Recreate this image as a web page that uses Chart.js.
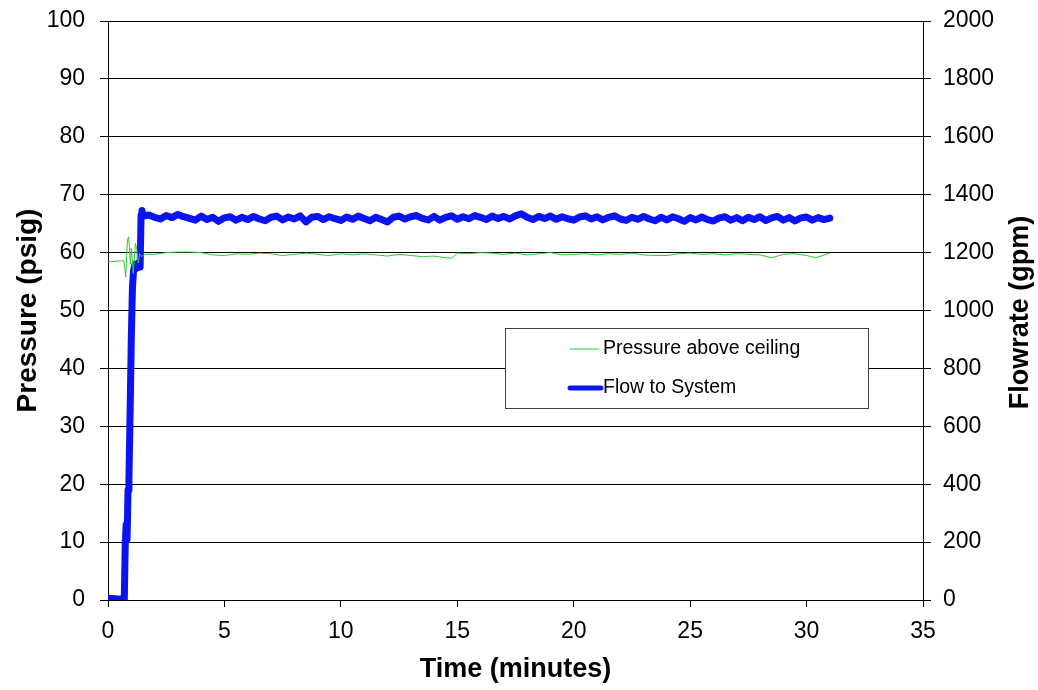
<!DOCTYPE html>
<html>
<head>
<meta charset="utf-8">
<script src="https://cdn.jsdelivr.net/npm/chart.js@4.4.1/dist/chart.umd.min.js"></script>
<style>
  html, body { margin: 0; padding: 0; background: #ffffff; }
  #wrap { width: 1038px; height: 690px; position: relative; }
</style>
</head>
<body>
<div id="wrap"><canvas id="c" width="1038" height="690"></canvas></div>
<script>
// ---------- DATA ----------
const seriesNames = ["Pressure above ceiling", "Flow to System"];
const axisTitles = { x: "Time (minutes)", left: "Pressure (psig)", right: "Flowrate (gpm)" };

const xTicks = [0, 5, 10, 15, 20, 25, 30, 35];
const pressureTicks = [0, 10, 20, 30, 40, 50, 60, 70, 80, 90, 100];
const flowTicks = [0, 200, 400, 600, 800, 1000, 1200, 1400, 1600, 1800, 2000];

// Pressure above ceiling (psig) vs time (minutes)
const pressureTime = [
  0, 0.3, 0.68, 0.72, 0.76, 0.8, 0.84, 0.88, 0.92, 0.96, 1.0, 1.04, 1.08, 1.12, 1.18, 1.24, 1.3, 1.36, 1.45, 1.6,
  2.0, 2.5, 3.0, 3.5, 4.0, 4.5, 5.0, 5.5, 6.0, 6.5, 7.0, 7.5, 8.0, 8.5, 9.0, 9.5, 10.0, 10.5, 11.0, 11.5,
  12.0, 12.5, 13.0, 13.5, 14.0, 14.5, 14.75, 15.0, 15.5, 16.0, 16.5, 17.0, 17.5, 18.0, 18.5, 19.0, 19.5, 20.0,
  20.5, 21.0, 21.5, 22.0, 22.5, 23.0, 23.5, 24.0, 24.5, 25.0, 25.5, 26.0, 26.5, 27.0, 27.5, 28.0, 28.5, 29.0,
  29.5, 30.0, 30.4, 30.75, 31.0
];
const pressureValue = [
  58.4, 58.5, 58.6, 57.5, 55.8, 59.5, 62.2, 62.7, 61.0, 58.0, 60.8, 59.0, 56.4, 58.5, 61.6, 60.5, 58.2, 59.8, 59.3, 59.7,
  59.7, 60.0, 60.1, 60.1, 60.0, 59.6, 59.5, 59.8, 59.7, 59.9, 59.8, 59.5, 59.7, 59.9, 59.7, 59.5, 59.8, 59.6, 59.8, 59.6,
  59.4, 59.7, 59.5, 59.3, 59.4, 59.1, 59.0, 59.9, 59.8, 60.0, 59.9, 59.7, 59.9, 59.6, 59.8, 60.0, 59.6, 59.7,
  59.8, 59.6, 59.8, 59.7, 59.9, 59.6, 59.5, 59.5, 59.8, 59.9, 59.7, 59.8, 59.6, 59.8, 59.7, 59.6, 59.1, 59.7,
  59.8, 59.5, 59.1, 59.6, 59.9
];

// Flow to System (gpm) vs time (minutes)
const flowTime = [
  0, 0.35, 0.7, 0.74, 0.78, 0.82, 0.86, 0.9, 0.95, 1.0, 1.05, 1.1, 1.16, 1.22, 1.3, 1.38, 1.42, 1.46, 1.5,
  1.75, 2.0, 2.25, 2.5, 2.75, 3.0, 3.25, 3.5, 3.75, 4.0, 4.25, 4.5, 4.75, 5.0, 5.25, 5.5, 5.75, 6.0, 6.25, 6.5,
  6.75, 7.0, 7.25, 7.5, 7.75, 8.0, 8.25, 8.5, 8.75, 9.0, 9.25, 9.5, 9.75, 10.0, 10.25, 10.5, 10.75, 11.0, 11.25,
  11.5, 11.75, 12.0, 12.25, 12.5, 12.75, 13.0, 13.25, 13.5, 13.75, 14.0, 14.25, 14.5, 14.75, 15.0, 15.25, 15.5,
  15.75, 16.0, 16.25, 16.5, 16.75, 17.0, 17.25, 17.5, 17.75, 18.0, 18.25, 18.5, 18.75, 19.0, 19.25, 19.5, 19.75,
  20.0, 20.25, 20.5, 20.75, 21.0, 21.25, 21.5, 21.75, 22.0, 22.25, 22.5, 22.75, 23.0, 23.25, 23.5, 23.75, 24.0,
  24.25, 24.5, 24.75, 25.0, 25.25, 25.5, 25.75, 26.0, 26.25, 26.5, 26.75, 27.0, 27.25, 27.5, 27.75, 28.0, 28.25,
  28.5, 28.75, 29.0, 29.25, 29.5, 29.75, 30.0, 30.25, 30.5, 30.75, 31.0
];
const flowValue = [
  6, 4, 3, 190, 260, 210, 380, 420, 650, 900, 1080, 1140, 1160, 1145, 1165, 1150, 1330, 1345, 1325,
  1330, 1322, 1316, 1328, 1321, 1332, 1324, 1318, 1312, 1326, 1314, 1322, 1308, 1320, 1324, 1312, 1322, 1314, 1325, 1316,
  1310, 1322, 1326, 1313, 1323, 1316, 1327, 1306, 1322, 1325, 1314, 1324, 1317, 1311, 1323, 1315, 1326, 1318, 1310,
  1322, 1314, 1306, 1322, 1326, 1316, 1324, 1328, 1318, 1313, 1325, 1312, 1322, 1327, 1315, 1324, 1317,
  1328, 1322, 1314, 1326, 1318, 1325, 1316, 1327, 1334, 1322, 1314, 1325, 1318, 1326, 1315, 1324, 1317,
  1312, 1323, 1327, 1316, 1324, 1313, 1322, 1327, 1316, 1311, 1322, 1315, 1325, 1316, 1310, 1322, 1313,
  1324, 1317, 1308, 1321, 1313, 1323, 1314, 1309, 1320, 1324, 1312, 1321, 1310, 1322, 1314, 1324, 1311,
  1320, 1325, 1312, 1321, 1309, 1320, 1323, 1312, 1321, 1314, 1319
];

// ---------- CHART ----------
const FONT = "'Liberation Sans', Arial, sans-serif";
const pressurePts = pressureTime.map((t, i) => ({ x: t, y: pressureValue[i] }));
const flowPts = flowTime.map((t, i) => ({ x: t, y: flowValue[i] }));

const extras = {
  id: 'extras',
  afterDraw(chart) {
    const ctx = chart.ctx;
    const area = chart.chartArea;
    ctx.save();
    // right axis title (reads bottom-to-top)
    ctx.translate(1021, (area.top + area.bottom) / 2 + 2);
    ctx.rotate(-Math.PI / 2);
    ctx.fillStyle = '#000';
    ctx.font = 'bold 27px ' + FONT;
    ctx.textAlign = 'center';
    ctx.textBaseline = 'middle';
    ctx.fillText(axisTitles.right, 0, 0);
    ctx.restore();
  },
  afterDatasetsDraw(chart) {
    const ctx = chart.ctx;
    const x0 = 505.5, y0 = 328.5, w = 363, h = 80;
    ctx.save();
    ctx.fillStyle = '#ffffff';
    ctx.fillRect(x0, y0, w, h);
    ctx.strokeStyle = '#404040';
    ctx.lineWidth = 1;
    ctx.strokeRect(x0, y0, w, h);
    const rows = [
      { y: 349, ds: chart.data.datasets[0], x1: 570, x2: 599, lw: 1 },
      { y: 388, ds: chart.data.datasets[1], x1: 570, x2: 601, lw: 5 }
    ];
    rows.forEach(r => {
      ctx.beginPath();
      ctx.strokeStyle = r.ds.borderColor;
      ctx.lineWidth = r.lw;
      ctx.lineCap = 'round';
      ctx.moveTo(r.x1, r.y);
      ctx.lineTo(r.x2, r.y);
      ctx.stroke();
      ctx.fillStyle = '#000000';
      ctx.font = '19.5px ' + FONT;
      ctx.textBaseline = 'middle';
      ctx.textAlign = 'left';
      ctx.fillText(r.ds.label, 603, r.y);
    });
    ctx.restore();
  }
};

const fixVertical = w => s => { s.width = w; s.paddingTop = 0; s.paddingBottom = 0; };

new Chart(document.getElementById('c'), {
  type: 'line',
  data: {
    datasets: [
      {
        label: seriesNames[0],
        data: pressurePts,
        yAxisID: 'y',
        borderColor: '#2ecc2e',
        borderWidth: 1,
        pointRadius: 0,
        tension: 0
      },
      {
        label: seriesNames[1],
        data: flowPts,
        yAxisID: 'y1',
        borderColor: '#0a14f0',
        borderWidth: 7,
        pointRadius: 0,
        tension: 0,
        borderJoinStyle: 'round',
        borderCapStyle: 'round'
      }
    ]
  },
  options: {
    responsive: false,
    animation: false,
    layout: { padding: { top: 21, left: 0, right: 0, bottom: 0 } },
    plugins: {
      legend: { display: false },
      tooltip: { enabled: false }
    },
    scales: {
      x: {
        type: 'linear',
        min: xTicks[0],
        max: xTicks[xTicks.length - 1],
        afterBuildTicks: s => { s.ticks = xTicks.map(v => ({ value: v })); },
        afterFit: s => { s.height = 90; s.paddingLeft = 0; s.paddingRight = 0; },
        ticks: { color: '#000', font: { family: FONT, size: 23 }, padding: 11, maxRotation: 0 },
        grid: { drawOnChartArea: false, drawTicks: true, tickLength: 7, color: '#000' },
        border: { color: '#000', width: 1 },
        title: { display: true, text: axisTitles.x, color: '#000',
                 font: { family: FONT, size: 27, weight: 'bold' }, padding: { top: 0, bottom: 4 } }
      },
      y: {
        position: 'left',
        min: pressureTicks[0],
        max: pressureTicks[pressureTicks.length - 1],
        afterBuildTicks: s => { s.ticks = pressureTicks.map(v => ({ value: v })); },
        afterFit: fixVertical(108),
        ticks: { color: '#000', font: { family: FONT, size: 23 }, padding: 15 },
        grid: { drawOnChartArea: true, drawTicks: true, tickLength: 8, color: '#000', lineWidth: 1 },
        border: { color: '#000', width: 1 },
        title: { display: true, text: axisTitles.left, color: '#000',
                 font: { family: FONT, size: 28, weight: 'bold' }, padding: { top: 11, bottom: 0 } }
      },
      y1: {
        position: 'right',
        min: flowTicks[0],
        max: flowTicks[flowTicks.length - 1],
        afterBuildTicks: s => { s.ticks = flowTicks.map(v => ({ value: v })); },
        afterFit: fixVertical(115),
        ticks: { color: '#000', font: { family: FONT, size: 23 }, padding: 12,
                 callback: v => String(v) },
        grid: { drawOnChartArea: false, drawTicks: true, tickLength: 8, color: '#000' },
        border: { color: '#000', width: 1 },
        title: { display: false }
      }
    }
  },
  plugins: [extras]
});
</script>
</body>
</html>
